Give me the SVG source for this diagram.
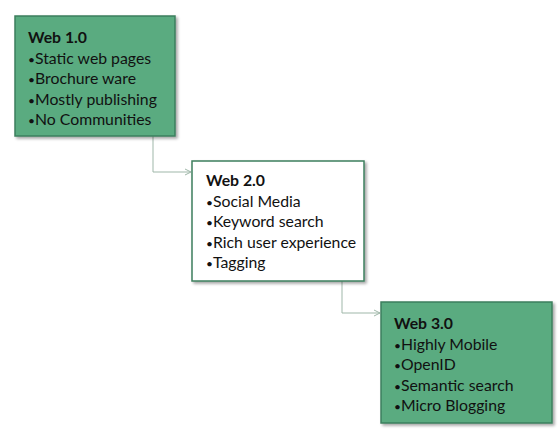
<svg xmlns="http://www.w3.org/2000/svg" width="560" height="441" viewBox="0 0 560 441">
<defs>
<style>
.box{stroke:#3d7f5e;stroke-width:1.5}
.green{fill:#5aab80}
.white{fill:#ffffff}
.t{font-family:Lato,"Liberation Sans",sans-serif;font-size:15.8px;fill:#111}
.h{font-weight:bold}
.b{font-size:12px}
.con{fill:none;stroke:#9fb7a9;stroke-width:1}
</style>
<filter id="sh" x="-10%" y="-10%" width="130%" height="130%">
<feGaussianBlur in="SourceAlpha" stdDeviation="1.5"/>
<feOffset dx="2" dy="2" result="b"/>
<feComponentTransfer><feFuncA type="linear" slope="0.35"/></feComponentTransfer>
<feMerge><feMergeNode/><feMergeNode in="SourceGraphic"/></feMerge>
</filter>
<marker id="arr" markerWidth="8" markerHeight="8" refX="7" refY="4" orient="auto" markerUnits="userSpaceOnUse">
<path d="M1,1 L7,4 L1,7" fill="none" stroke="#9fb7a9" stroke-width="1"/>
</marker>
</defs>
<rect width="560" height="441" fill="#ffffff"/>
<g id="connectors">
<path class="con" d="M153,136 V172 H191" marker-end="url(#arr)"/>
<path class="con" d="M342,281 V313 H380" marker-end="url(#arr)"/>
</g>
<g id="web1">
<rect class="box green" x="15" y="16" width="160" height="120" filter="url(#sh)"/>
<text class="t" x="28" y="43"><tspan class="h">Web 1.0</tspan><tspan x="28" dy="20.6" class="b">•</tspan><tspan>Static web pages</tspan><tspan x="28" dy="20.6" class="b">•</tspan><tspan>Brochure ware</tspan><tspan x="28" dy="20.6" class="b">•</tspan><tspan>Mostly publishing</tspan><tspan x="28" dy="20.6" class="b">•</tspan><tspan>No Communities</tspan></text>
</g>
<g id="web2">
<rect class="box white" x="192" y="161" width="172" height="120" filter="url(#sh)"/>
<text class="t" x="206" y="186"><tspan class="h">Web 2.0</tspan><tspan x="206" dy="20.6" class="b">•</tspan><tspan>Social Media</tspan><tspan x="206" dy="20.6" class="b">•</tspan><tspan>Keyword search</tspan><tspan x="206" dy="20.6" class="b">•</tspan><tspan>Rich user experience</tspan><tspan x="206" dy="20.6" class="b">•</tspan><tspan>Tagging</tspan></text>
</g>
<g id="web3">
<rect class="box green" x="381" y="302" width="171" height="121" filter="url(#sh)"/>
<text class="t" x="394" y="329"><tspan class="h">Web 3.0</tspan><tspan x="394" dy="20.6" class="b">•</tspan><tspan>Highly Mobile</tspan><tspan x="394" dy="20.6" class="b">•</tspan><tspan>OpenID</tspan><tspan x="394" dy="20.6" class="b">•</tspan><tspan>Semantic search</tspan><tspan x="394" dy="20.6" class="b">•</tspan><tspan>Micro Blogging</tspan></text>
</g>
</svg>
